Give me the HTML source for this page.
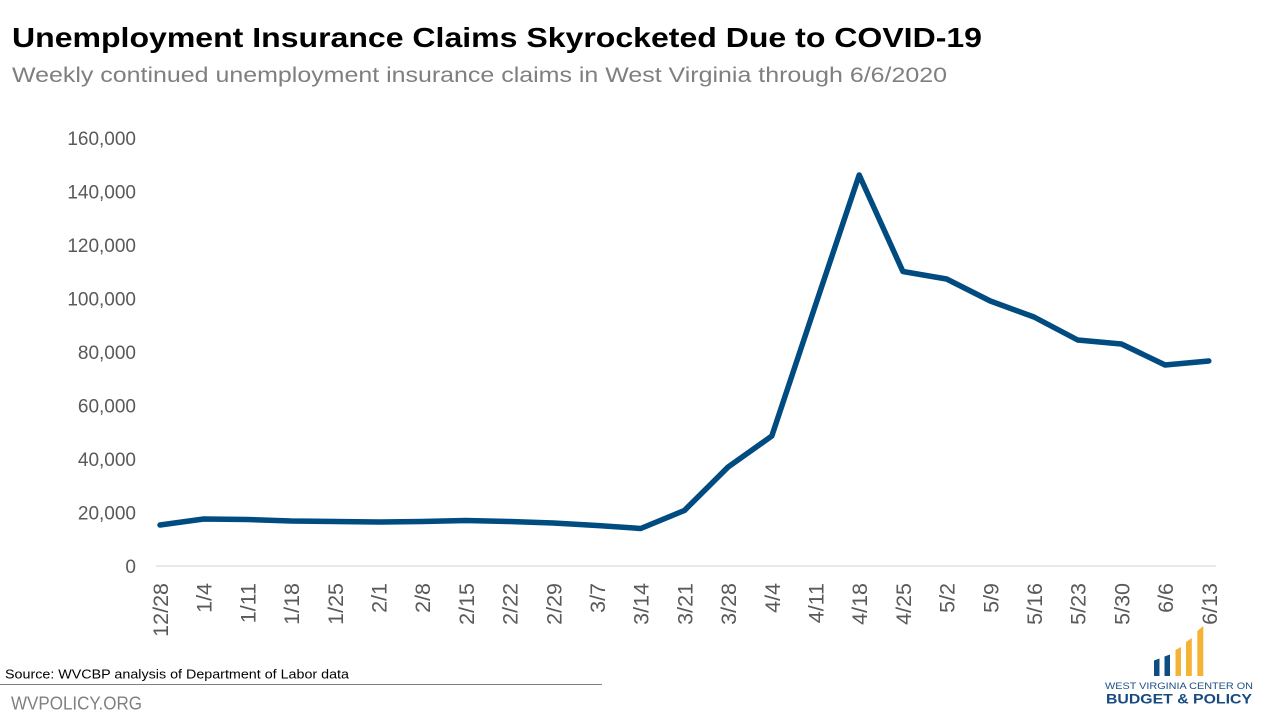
<!DOCTYPE html>
<html>
<head>
<meta charset="utf-8">
<style>
  html, body { margin: 0; padding: 0; background: #ffffff; }
  svg { display: block; }
  text { font-family: "Liberation Sans", Arial, sans-serif; }
</style>
</head>
<body>
<svg width="1280" height="720" viewBox="0 0 1280 720" xmlns="http://www.w3.org/2000/svg">
  <rect x="0" y="0" width="1280" height="720" fill="#ffffff"/>

  <!-- Title -->
  <text x="12" y="47" font-size="28" font-weight="bold" fill="#000000" textLength="970" lengthAdjust="spacingAndGlyphs">Unemployment Insurance Claims Skyrocketed Due to COVID-19</text>
  <!-- Subtitle -->
  <text x="12" y="82" font-size="21" fill="#7f7f7f" textLength="935" lengthAdjust="spacingAndGlyphs">Weekly continued unemployment insurance claims in West Virginia through 6/6/2020</text>

  <!-- Y axis labels -->
  <g font-size="19" fill="#595959" text-anchor="end">
    <text x="136" y="145">160,000</text>
    <text x="136" y="198.5">140,000</text>
    <text x="136" y="252">120,000</text>
    <text x="136" y="305.5">100,000</text>
    <text x="136" y="359">80,000</text>
    <text x="136" y="412.5">60,000</text>
    <text x="136" y="466">40,000</text>
    <text x="136" y="519.5">20,000</text>
    <text x="136" y="573">0</text>
  </g>

  <!-- Baseline -->
  <line x1="156" y1="566" x2="1216" y2="566" stroke="#d9d9d9" stroke-width="1.3"/>

  <!-- X axis labels (rotated) -->
  <g font-size="21.5" fill="#595959" text-anchor="end">
    <text transform="translate(168,583) rotate(-90)">12/28</text>
    <text transform="translate(211.7,583) rotate(-90)">1/4</text>
    <text transform="translate(255.4,583) rotate(-90)">1/11</text>
    <text transform="translate(299.1,583) rotate(-90)">1/18</text>
    <text transform="translate(342.8,583) rotate(-90)">1/25</text>
    <text transform="translate(386.5,583) rotate(-90)">2/1</text>
    <text transform="translate(430.2,583) rotate(-90)">2/8</text>
    <text transform="translate(473.9,583) rotate(-90)">2/15</text>
    <text transform="translate(517.6,583) rotate(-90)">2/22</text>
    <text transform="translate(561.3,583) rotate(-90)">2/29</text>
    <text transform="translate(605,583) rotate(-90)">3/7</text>
    <text transform="translate(648.7,583) rotate(-90)">3/14</text>
    <text transform="translate(692.4,583) rotate(-90)">3/21</text>
    <text transform="translate(736.1,583) rotate(-90)">3/28</text>
    <text transform="translate(779.8,583) rotate(-90)">4/4</text>
    <text transform="translate(823.5,583) rotate(-90)">4/11</text>
    <text transform="translate(867.2,583) rotate(-90)">4/18</text>
    <text transform="translate(910.9,583) rotate(-90)">4/25</text>
    <text transform="translate(954.6,583) rotate(-90)">5/2</text>
    <text transform="translate(998.3,583) rotate(-90)">5/9</text>
    <text transform="translate(1042,583) rotate(-90)">5/16</text>
    <text transform="translate(1085.7,583) rotate(-90)">5/23</text>
    <text transform="translate(1129.4,583) rotate(-90)">5/30</text>
    <text transform="translate(1173.1,583) rotate(-90)">6/6</text>
    <text transform="translate(1216.8,583) rotate(-90)">6/13</text>
  </g>

  <!-- Data line -->
  <polyline fill="none" stroke="#004b7f" stroke-width="5.5" stroke-linejoin="round" stroke-linecap="round"
    points="160,525 203.7,519 247.4,519.5 291.1,521 334.8,521.5 378.5,522 422.2,521.5 465.9,520.5 509.6,521.5 553.3,523 597,525.5 640.7,528.5 684.4,510.5 728.1,467 771.8,436 815.5,305 859.2,175 902.9,271.5 946.6,279 990.3,301 1034,317 1077.7,340 1121.4,344 1165.1,365 1208.8,361"/>

  <!-- Source -->
  <text x="5" y="678.5" font-size="12.5" fill="#000000" textLength="344" lengthAdjust="spacingAndGlyphs">Source: WVCBP analysis of Department of Labor data</text>
  <line x1="0" y1="684.5" x2="602" y2="684.5" stroke="#808080" stroke-width="1"/>
  <text x="11" y="709.5" font-size="18" fill="#808080" textLength="131" lengthAdjust="spacingAndGlyphs">WVPOLICY.ORG</text>

  <!-- Logo -->
  <g>
    <polygon points="1154,676 1154,660.5 1159.5,658.5 1159.5,676" fill="#0f4c81"/>
    <polygon points="1164.5,676 1164.5,656.5 1170,654.5 1170,676" fill="#0f4c81"/>
    <polygon points="1175.5,676 1175.5,650 1181,647 1181,676" fill="#f5b335"/>
    <polygon points="1186,676 1186,642 1191.8,638 1191.8,676" fill="#f5b335"/>
    <polygon points="1197.3,676 1197.3,631 1203.3,626 1203.3,676" fill="#f5b335"/>
    <text x="1105" y="689" font-size="9.5" fill="#1b4f86" textLength="148" lengthAdjust="spacingAndGlyphs">WEST VIRGINIA CENTER ON</text>
    <text x="1106" y="703.5" font-size="13.5" font-weight="bold" fill="#174a80" textLength="146" lengthAdjust="spacingAndGlyphs">BUDGET &amp; POLICY</text>
  </g>
</svg>
</body>
</html>
